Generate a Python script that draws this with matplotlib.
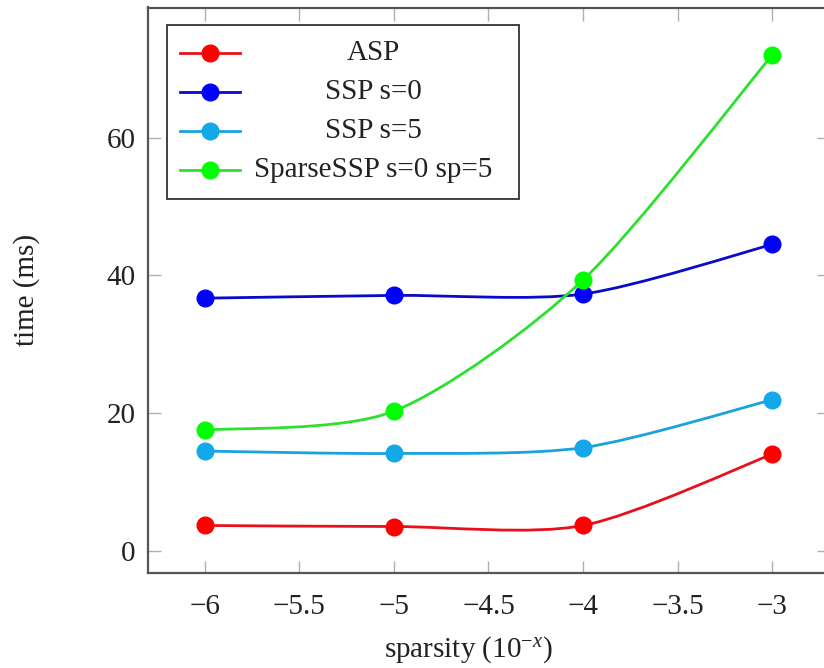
import matplotlib
matplotlib.use('Agg')
import matplotlib.pyplot as plt
from matplotlib.lines import Line2D
from matplotlib.patches import PathPatch, Rectangle
from matplotlib.path import Path

plt.rcParams['font.family'] = ['Liberation Serif', 'DejaVu Serif']
plt.rcParams['mathtext.fontset'] = 'custom'
plt.rcParams['mathtext.rm'] = 'Liberation Serif'
plt.rcParams['mathtext.it'] = 'Liberation Serif:italic'

sparsity = [-6, -5, -4, -3]
asp = [3.7, 3.55, 3.7, 14.05]
ssp_s0 = [36.7, 37.1, 37.3, 44.5]
ssp_s5 = [14.5, 14.15, 15.0, 21.95]
sparse_ssp = [17.55, 20.3, 39.35, 72.0]

labels = ['ASP', 'SSP s=0', 'SSP s=5', 'SparseSSP s=0 sp=5']
series = [asp, ssp_s0, ssp_s5, sparse_ssp]
line_colors = ['#e8101a', '#0a0ac8', '#1aa2dc', '#2ee02e']
marker_colors = ['#ff0000', '#0000ff', '#14a8ea', '#00ff00']

TENSION = 0.55 / 4
W, H = 824, 668
FS = 21


def smooth_path(xs, ys):
    # bezier through the points, like tikz "smooth"
    pts = list(zip(xs, ys))
    n = len(pts)
    verts = [pts[0]]
    codes = [Path.MOVETO]
    for i in range(n - 1):
        p0 = pts[max(i - 1, 0)]
        p1 = pts[i]
        p2 = pts[i + 1]
        p3 = pts[min(i + 2, n - 1)]
        c1 = (p1[0] + TENSION * (p2[0] - p0[0]), p1[1] + TENSION * (p2[1] - p0[1]))
        c2 = (p2[0] - TENSION * (p3[0] - p1[0]), p2[1] - TENSION * (p3[1] - p1[1]))
        verts += [c1, c2, p2]
        codes += [Path.CURVE4] * 3
    return Path(verts, codes)


def fx(px):
    return px / W


def fy(py):
    return 1 - py / H


fig = plt.figure(figsize=(W / 100, H / 100), dpi=100)
ax = fig.add_axes([fx(148), fy(573), (829 - 148) / W, (573 - 7.5) / H])

for ys, lc, mc in zip(series, line_colors, marker_colors):
    ax.add_patch(PathPatch(smooth_path(sparsity, ys), fill=False, edgecolor=lc,
                           lw=2.0, zorder=2))
    ax.plot(sparsity, ys, ls='none', marker='o', ms=12, color=mc, mec=mc, zorder=3)

ax.set_xlim(-6.3, -2.7)
ax.set_ylim(-3.2, 78.9)
ax.set_xticks([-6, -5.5, -5, -4.5, -4, -3.5, -3])
ax.set_xticklabels(['\u22126', '\u22125.5', '\u22125', '\u22124.5', '\u22124', '\u22123.5', '\u22123'])
ax.set_yticks([0, 20, 40, 60])
ax.tick_params(direction='in', length=9, width=1, color='#b0b0b0', top=True, right=True,
               labelsize=FS, labelcolor='#222222')
ax.tick_params(axis='x', pad=15)
ax.tick_params(axis='y', pad=9)
for s in ax.spines.values():
    s.set_color('#555555')
    s.set_linewidth(1.6)

fig.text(fx(27), fy(290), 'time (ms)', rotation=90, ha='center', va='center',
         fontsize=FS, color='#222222')
fig.text(fx(468), fy(650), 'sparsity ($10^{-x}$)', ha='center', va='center',
         fontsize=FS, color='#222222')

# legend drawn by hand so the text is centred like pgfplots
fig.add_artist(Rectangle((fx(167), fy(199)), (519 - 167) / W, (199 - 25) / H,
                         transform=fig.transFigure, facecolor='white',
                         edgecolor='#333333', lw=1.3, zorder=5))
rows = [52.7, 91.7, 131, 170]
for lab, lc, mc, ry in zip(labels, line_colors, marker_colors, rows):
    fig.add_artist(Line2D([fx(180), fx(240)], [fy(ry), fy(ry)], color=lc, lw=2.0,
                          transform=fig.transFigure, zorder=6))
    fig.add_artist(Line2D([fx(210)], [fy(ry)], ls='none', marker='o', ms=12, color=mc,
                          transform=fig.transFigure, zorder=7))
    fig.text(fx(373), fy(ry), lab, ha='center', va='center', fontsize=FS,
             color='#222222', zorder=7)

fig.savefig('out.png', dpi=100)
